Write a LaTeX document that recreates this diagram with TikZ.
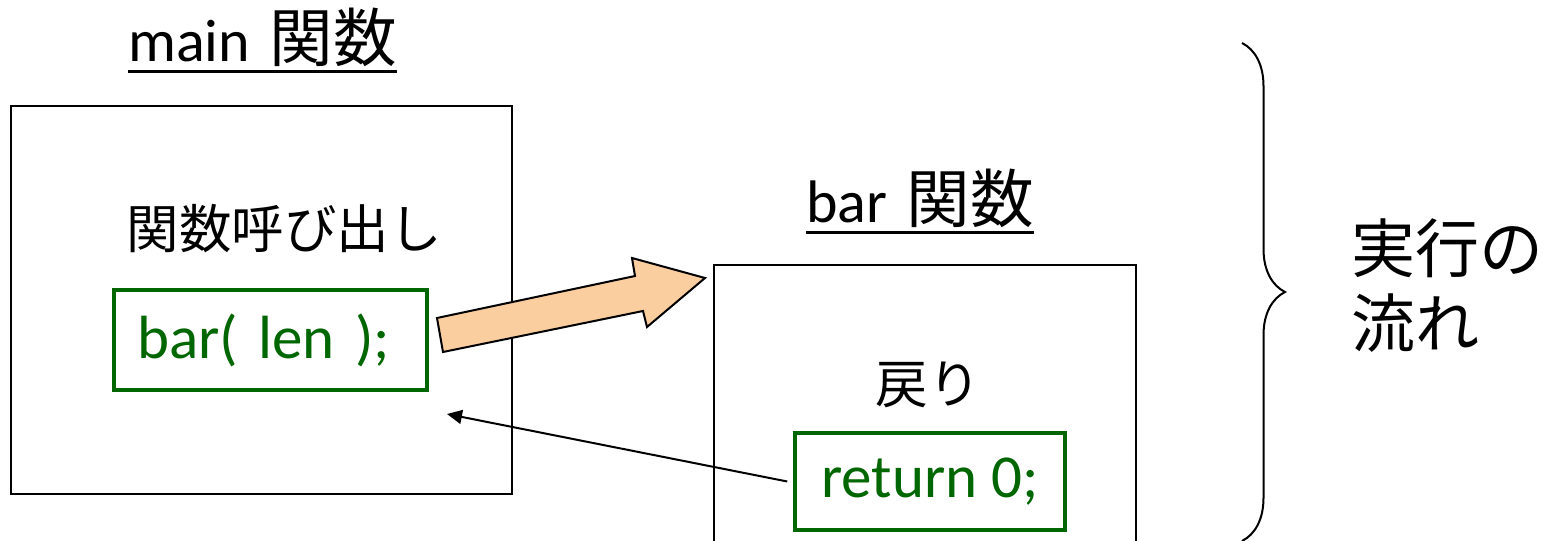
\documentclass[tikz,border=0pt]{standalone}
\usepackage{fontspec}
\setmainfont{Carlito}
\newfontfamily\jpfont{Noto Sans CJK JP}
\newfontfamily\jptitlefont[Scale=1.06]{Noto Sans CJK JP}
\usetikzlibrary{arrows.meta, positioning, decorations.pathreplacing}
\definecolor{codegreen}{RGB}{0,102,0}
\definecolor{flowfill}{RGB}{251,206,160}

\begin{document}
\begin{tikzpicture}[
  x=1pt, y=-1pt,
  funcbox/.style={
    rectangle,
    draw=black, line width=1.5pt,
    inner sep=0pt
  },
  codebox/.style={
    rectangle,
    draw=codegreen, line width=3.5pt,
    text=codegreen,
    font=\fontsize{61}{74}\selectfont,
    inner sep=0pt
  },
  functitle/.style={inner sep=0pt, anchor=base west, font=\fontsize{60}{72}\selectfont},
  titleline/.style={line width=3pt},
  jplabel/.style={inner sep=0pt, font=\fontsize{52.5}{60}\selectfont\jpfont},
  flowarrow/.style={draw=black, line width=2pt, fill=flowfill, line join=miter},
  backarrow/.style={-{Triangle[length=15pt, width=14pt]}, line width=2pt},
  flowbrace/.style={decorate, decoration={brace, amplitude=43pt}, line width=2pt}
]
\useasboundingbox (0,0) rectangle (1543,541);

% main side
\node[funcbox, minimum width=501pt, minimum height=388pt] (mainbox) at (261.5,300) {};
\node[functitle] (maintitle) at (128,61) {main\hspace{6pt} {\jptitlefont 関数}};
\draw[titleline] ([yshift=-10pt]maintitle.base west) -- ([yshift=-10pt]maintitle.base east);
\node[jplabel] (calltext) at (284,229) {関数呼び出し};
\node[codebox, minimum width=313pt, minimum height=100pt, text width=267pt, align=left] (callbox) at (270.5,340) {bar( len );};

% bar side
\node[funcbox, minimum width=422pt, minimum height=305pt] (barbox) at (925,417.5) {};
\node[functitle] (bartitle) at (806,222) {bar\hspace{6pt} {\jptitlefont 関数}};
\draw[titleline] ([yshift=-10pt]bartitle.base west) -- ([yshift=-10pt]bartitle.base east);
\node[jplabel] (rettext) at (928,385) {戻り};
\node[codebox, minimum width=270pt, minimum height=97pt] (retbox) at (930,481.5) {return 0;};

% call and return
\draw[flowarrow] (437,318) -- (635,276) -- (632,258) -- (705,278) -- (647,327) -- (643,311) -- (443,352) -- cycle;
\coordinate (callback) at (447,414);
\draw[backarrow] ([xshift=-6pt]retbox.west) -- (callback);

% flow
\draw[flowbrace] (1242,43) -- (1242,541);
\node[inner sep=0pt, anchor=north west, align=left, font=\fontsize{64}{75}\selectfont\jpfont] (flowtext) at (1351,218) {実行の\\流れ};

\end{tikzpicture}
\end{document}
